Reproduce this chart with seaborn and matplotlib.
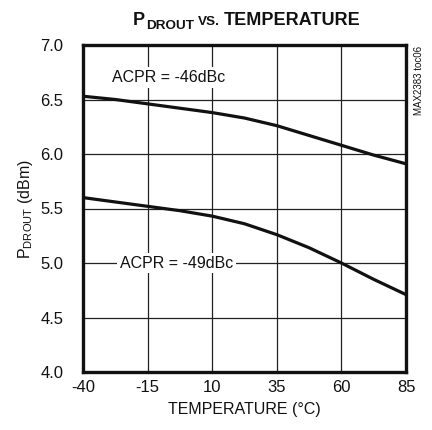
import matplotlib
matplotlib.use("Agg")
import matplotlib.pyplot as plt
from matplotlib import font_manager
import seaborn as sns
import pandas as pd

temps = [-40, -27.5, -15, -2.5, 10, 22.5, 35, 47.5, 60, 72.5, 85]
acpr46 = [6.53, 6.50, 6.46, 6.42, 6.38, 6.33, 6.26, 6.17, 6.08, 5.99, 5.91]
acpr49 = [5.60, 5.56, 5.52, 5.48, 5.43, 5.36, 5.26, 5.14, 5.00, 4.85, 4.71]
xticks = [-40, -15, 10, 35, 60, 85]
yticks = [4.0, 4.5, 5.0, 5.5, 6.0, 6.5, 7.0]
labels = ["ACPR = -46dBc", "ACPR = -49dBc"]

df = pd.DataFrame({
    "temp": temps * 2,
    "p": acpr46 + acpr49,
    "series": [labels[0]] * len(temps) + [labels[1]] * len(temps),
})

sns.set_theme(style="white")
names = {f.name for f in font_manager.fontManager.ttflist}
fam = "Liberation Sans Narrow" if "Liberation Sans Narrow" in names else "Liberation Sans"
plt.rcParams["font.family"] = [fam, "DejaVu Sans"]
plt.rcParams["mathtext.fontset"] = "custom"
plt.rcParams["mathtext.bf"] = f"{fam}:bold"
plt.rcParams["mathtext.rm"] = fam

fig = plt.figure(figsize=(4.32, 4.30), dpi=100)
ax = fig.add_axes([83/432, 1 - 372/430, (406 - 83)/432, (372 - 45)/430])

sns.lineplot(data=df, x="temp", y="p", units="series", estimator=None,
             color="#111111", linewidth=2.3, ax=ax, legend=False)
for ln in ax.get_lines():
    ln.set_solid_joinstyle("round")

ax.set_xlim(-40, 85)
ax.set_ylim(4.0, 7.0)
ax.set_xticks(xticks)
ax.set_xticklabels([str(t) for t in xticks])
ax.set_yticks(yticks)
ax.set_yticklabels([f"{t:.1f}" for t in yticks])
ax.tick_params(axis="x", length=0, labelsize=12, pad=6, colors="#111111")
ax.tick_params(axis="y", length=0, labelsize=12, pad=14, colors="#111111")
ax.grid(True, color="#222222", linewidth=0.9)
ax.set_axisbelow(True)
for s in ax.spines.values():
    s.set_visible(True)
    s.set_color("#111111")
    s.set_linewidth(2.4)

ax.set_xlabel("TEMPERATURE (°C)", fontsize=11.5, color="#111111", labelpad=5)
ax.set_ylabel(r"P$_{\mathrm{DROUT}}$ (dBm)", fontsize=11.5, color="#111111", labelpad=4)

bbox = dict(facecolor="white", edgecolor="none", pad=2)
ax.text(-28.8, 6.7, labels[0], fontsize=11.5, va="center", ha="left", bbox=bbox, color="#111111")
ax.text(-25.8, 5.0, labels[1], fontsize=11.5, va="center", ha="left", bbox=bbox, color="#111111")

fig.text(419/432, 1 - 80/430, "MAX2383 toc06", rotation=90, fontsize=7, ha="center", va="center", color="#111111")

# Title built from pieces: big P, subscript DROUT, small VS., big TEMPERATURE
pieces = [("P", 13, 0, 0), ("DROUT", 9.7, -4, 1), ("VS.", 9.7, 0, 4), ("TEMPERATURE", 13, 0, 4)]
renderer = fig.canvas.get_renderer()
x = 133
base_y = 430 - 25
for txt, size, dy, gap in pieces:
    x += gap
    t = fig.text(x / 432, (base_y + dy) / 430, txt, fontsize=size, fontweight="heavy",
                 ha="left", va="baseline", color="#111111")
    bb = t.get_window_extent(renderer=renderer)
    x += bb.width

fig.savefig("out.png", dpi=100)
